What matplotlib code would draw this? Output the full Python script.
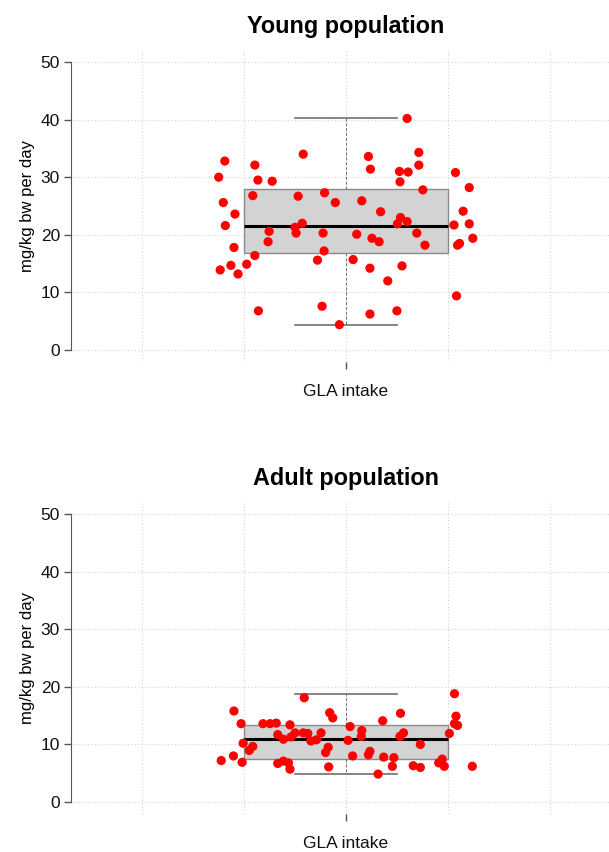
import matplotlib as mpl
mpl.use('Agg')
import matplotlib.pyplot as plt

plt.rcParams['font.family'] = ['Liberation Sans', 'DejaVu Sans']

# jittered points, young population (x = jittered position around 1)
young_x = [1.120, 0.762, 0.750, 0.821, 0.827, 0.855, 0.916, 1.044, 1.048, 1.143,
           1.143, 1.105, 1.122, 1.106, 1.215, 1.242, 1.151, 0.759, 0.817, 0.906,
           0.958, 0.979, 1.031, 1.068, 1.230, 0.782, 0.763, 1.107, 1.120, 1.101,
           0.914, 0.900, 1.212, 1.242, 0.849, 0.902, 0.955, 1.021, 1.051, 1.065,
           1.139, 1.249, 0.847, 0.780, 1.155, 1.219, 1.223, 0.957, 0.821, 0.944,
           1.014, 0.805, 0.774, 0.753, 0.788, 1.047, 1.110, 1.082, 1.217, 0.828,
           0.953, 1.047, 1.100, 0.987]
young_y = [40.2, 32.8, 30.0, 32.1, 29.5, 29.3, 34.0, 33.6, 31.4, 34.3,
           32.1, 31.0, 30.9, 29.2, 30.8, 28.2, 27.8, 25.6, 26.8, 26.7,
           27.3, 25.6, 25.9, 24.0, 24.1, 23.6, 21.6, 23.0, 22.3, 21.9,
           22.0, 21.3, 21.7, 21.9, 20.6, 20.3, 20.3, 20.1, 19.4, 18.8,
           20.3, 19.4, 18.8, 17.8, 18.2, 18.2, 18.5, 17.2, 16.4, 15.6,
           15.7, 14.9, 14.7, 13.9, 13.2, 14.2, 14.6, 12.0, 9.4, 6.8,
           7.6, 6.25, 6.8, 4.4]

# jittered points, adult population
adult_x = [0.918, 1.213, 0.780, 0.968, 0.974, 1.072, 1.107, 1.216, 1.213, 1.219,
           0.794, 0.837, 0.851, 0.863, 0.890, 1.008, 1.031, 1.030, 0.866, 0.877,
           0.892, 0.900, 0.916, 0.925, 0.931, 0.942, 0.951, 1.004, 1.106, 1.113,
           1.203, 0.798, 0.817, 0.810, 0.965, 0.960, 1.146, 1.047, 1.044, 1.013,
           0.779, 0.755, 0.796, 0.866, 0.877, 0.887, 0.890, 0.966, 1.074, 1.094,
           1.091, 1.063, 1.132, 1.146, 1.182, 1.189, 1.193, 1.248]
adult_y = [18.1, 18.8, 15.8, 15.5, 14.6, 14.1, 15.4, 14.9, 13.6, 13.3,
           13.6, 13.6, 13.6, 13.7, 13.4, 13.1, 12.4, 11.4, 11.7, 10.9,
           11.3, 12.0, 12.0, 11.9, 10.6, 10.8, 12.0, 10.7, 11.4, 12.0,
           11.9, 10.2, 9.65, 8.96, 9.5, 8.6, 10.0, 8.8, 8.2, 8.0,
           8.0, 7.2, 6.9, 6.7, 7.1, 6.8, 5.7, 6.1, 7.8, 7.7,
           6.2, 4.85, 6.3, 6.0, 6.8, 7.45, 6.2, 6.2]

# box statistics
young_stats = dict(whislo=4.4, q1=16.8, med=21.6, q3=28.0, whishi=40.2, fliers=[])
adult_stats = dict(whislo=4.9, q1=7.5, med=10.9, q3=13.3, whishi=18.7, fliers=[])

yticks = [0, 10, 20, 30, 40, 50]
xgrid = [0.6, 0.8, 1.0, 1.2, 1.4]

fig = plt.figure(figsize=(6.09, 8.52), dpi=100)
W, H = 609.0, 852.0


def panel(top_px, title, xs, ys, stats):
    bottom_px = top_px + 312
    ax = fig.add_axes([71 / W, 1 - bottom_px / H, 550 / W, 312 / H])
    ax.set_xlim(0.46, 1.54)
    ax.set_ylim(-2.08, 52.08)
    for g in xgrid:
        ax.axvline(g, color='#d3d3d3', ls=(0, (1, 2)), lw=0.8, zorder=0)
    for t in yticks:
        ax.axhline(t, color='#d3d3d3', ls=(0, (1, 2)), lw=0.8, zorder=0)
    ax.bxp([stats], positions=[1], widths=0.4, patch_artist=True, showfliers=False,
           boxprops=dict(facecolor='#d3d3d3', edgecolor='#8a8a8a', lw=1.0),
           whiskerprops=dict(color='#707070', ls=(0, (3, 2)), lw=0.7),
           capprops=dict(color='#707070', lw=1.2),
           medianprops=dict(color='black', lw=2.2), zorder=2)
    ax.scatter(xs, ys, s=44, c='#ff0000', edgecolors='none', zorder=5)
    for s in ['top', 'right', 'bottom']:
        ax.spines[s].set_visible(False)
    ax.spines['left'].set_bounds(0, 50)
    ax.spines['left'].set_color('#555555')
    ax.set_yticks(yticks)
    ax.tick_params(axis='y', colors='#555555', labelcolor='#111111', length=5,
                   width=1, labelsize=12.5, pad=3)
    ax.set_xticks([1])
    ax.set_xticklabels(['GLA intake'])
    ax.tick_params(axis='x', colors='#555555', labelcolor='#111111', length=5,
                   width=1, labelsize=12.5, pad=11)
    ax.set_ylabel('mg/kg bw per day', fontsize=12, labelpad=4)
    ax.set_title(title, fontsize=16.8, fontweight='bold', pad=12)
    return ax


panel(50, 'Young population', young_x, young_y, young_stats)
panel(502, 'Adult population', adult_x, adult_y, adult_stats)

fig.savefig('out.png', dpi=100)
